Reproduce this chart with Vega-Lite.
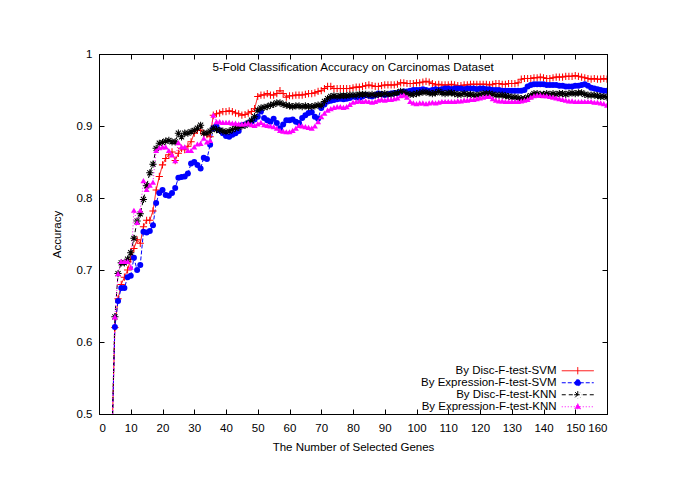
{
  "$schema": "https://vega.github.io/schema/vega-lite/v6.json",
  "autosize": {"type": "none"},
  "width": 508,
  "height": 360,
  "padding": {"left": 99, "top": 54, "right": 78, "bottom": 69},
  "background": "white",
  "title": {"text": "5-Fold Classification Accuracy on Carcinomas Dataset", "font": "Liberation Sans", "fontSize": 11.7, "fontWeight": "normal", "color": "black", "anchor": "middle", "baseline": "middle", "offset": -31},
  "data": {"values": [
    {"g":4,"r":0.45,"b":0.45,"k":0.45,"m":0.45},
    {"g":5,"r":0.62,"b":0.621,"k":0.635,"m":0.635},
    {"g":6,"r":0.66,"b":0.657,"k":0.695,"m":0.695},
    {"g":7,"r":0.68,"b":0.675,"k":0.71,"m":0.712},
    {"g":8,"r":0.69,"b":0.675,"k":0.71,"m":0.712},
    {"g":9,"r":0.70,"b":0.69,"k":0.715,"m":0.712},
    {"g":10,"r":0.715,"b":0.692,"k":0.724,"m":0.704},
    {"g":11,"r":0.73,"b":0.717,"k":0.744,"m":0.783},
    {"g":12,"r":0.742,"b":0.70,"k":0.768,"m":0.766},
    {"g":13,"r":0.737,"b":0.707,"k":0.778,"m":0.783},
    {"g":14,"r":0.76,"b":0.753,"k":0.798,"m":0.824},
    {"g":15,"r":0.769,"b":0.752,"k":0.817,"m":0.812},
    {"g":16,"r":0.769,"b":0.754,"k":0.835,"m":0.818},
    {"g":17,"r":0.782,"b":0.762,"k":0.847,"m":0.822},
    {"g":18,"r":0.811,"b":0.793,"k":0.869,"m":0.866},
    {"g":19,"r":0.83,"b":0.807,"k":0.876,"m":0.87},
    {"g":20,"r":0.846,"b":0.811,"k":0.877,"m":0.871},
    {"g":21,"r":0.855,"b":0.804,"k":0.879,"m":0.871},
    {"g":22,"r":0.86,"b":0.803,"k":0.88,"m":0.866},
    {"g":23,"r":0.864,"b":0.807,"k":0.878,"m":0.86},
    {"g":24,"r":0.852,"b":0.814,"k":0.878,"m":0.852},
    {"g":25,"r":0.862,"b":0.828,"k":0.89,"m":0.877},
    {"g":26,"r":0.869,"b":0.829,"k":0.885,"m":0.871},
    {"g":27,"r":0.867,"b":0.83,"k":0.89,"m":0.871},
    {"g":28,"r":0.872,"b":0.834,"k":0.89,"m":0.866},
    {"g":29,"r":0.878,"b":0.848,"k":0.892,"m":0.866},
    {"g":30,"r":0.89,"b":0.85,"k":0.894,"m":0.871},
    {"g":31,"r":0.894,"b":0.846,"k":0.897,"m":0.875},
    {"g":32,"r":0.894,"b":0.841,"k":0.901,"m":0.876},
    {"g":33,"r":0.889,"b":0.856,"k":0.89,"m":0.883},
    {"g":34,"r":0.888,"b":0.854,"k":0.89,"m":0.878},
    {"g":35,"r":0.885,"b":0.874,"k":0.893,"m":0.88},
    {"g":36,"r":0.915,"b":0.897,"k":0.897,"m":0.915},
    {"g":37,"r":0.917,"b":0.9,"k":0.895,"m":0.906},
    {"g":38,"r":0.918,"b":0.894,"k":0.894,"m":0.906},
    {"g":39,"r":0.92,"b":0.89,"k":0.893,"m":0.905},
    {"g":40,"r":0.92,"b":0.886,"k":0.892,"m":0.905},
    {"g":41,"r":0.921,"b":0.885,"k":0.893,"m":0.905},
    {"g":42,"r":0.92,"b":0.888,"k":0.895,"m":0.904},
    {"g":43,"r":0.918,"b":0.89,"k":0.897,"m":0.904},
    {"g":44,"r":0.917,"b":0.893,"k":0.898,"m":0.903},
    {"g":45,"r":0.915,"b":0.901,"k":0.9,"m":0.903},
    {"g":46,"r":0.916,"b":0.902,"k":0.901,"m":0.903},
    {"g":47,"r":0.918,"b":0.904,"k":0.904,"m":0.904},
    {"g":48,"r":0.92,"b":0.906,"k":0.908,"m":0.902},
    {"g":49,"r":0.924,"b":0.909,"k":0.913,"m":0.901},
    {"g":50,"r":0.941,"b":0.913,"k":0.922,"m":0.903},
    {"g":51,"r":0.943,"b":0.92,"k":0.925,"m":0.905},
    {"g":52,"r":0.943,"b":0.911,"k":0.926,"m":0.902},
    {"g":53,"r":0.945,"b":0.908,"k":0.927,"m":0.901},
    {"g":54,"r":0.943,"b":0.906,"k":0.929,"m":0.9},
    {"g":55,"r":0.943,"b":0.91,"k":0.93,"m":0.899},
    {"g":56,"r":0.945,"b":0.904,"k":0.932,"m":0.897},
    {"g":57,"r":0.949,"b":0.897,"k":0.932,"m":0.894},
    {"g":58,"r":0.945,"b":0.902,"k":0.93,"m":0.893},
    {"g":59,"r":0.94,"b":0.908,"k":0.929,"m":0.892},
    {"g":60,"r":0.942,"b":0.908,"k":0.928,"m":0.892},
    {"g":61,"r":0.942,"b":0.909,"k":0.927,"m":0.894},
    {"g":62,"r":0.943,"b":0.906,"k":0.928,"m":0.897},
    {"g":63,"r":0.943,"b":0.904,"k":0.928,"m":0.901},
    {"g":64,"r":0.943,"b":0.911,"k":0.927,"m":0.9},
    {"g":65,"r":0.944,"b":0.915,"k":0.928,"m":0.899},
    {"g":66,"r":0.945,"b":0.918,"k":0.927,"m":0.898},
    {"g":67,"r":0.945,"b":0.919,"k":0.927,"m":0.897},
    {"g":68,"r":0.946,"b":0.913,"k":0.928,"m":0.9},
    {"g":69,"r":0.948,"b":0.91,"k":0.929,"m":0.906},
    {"g":70,"r":0.949,"b":0.925,"k":0.929,"m":0.913},
    {"g":71,"r":0.952,"b":0.93,"k":0.934,"m":0.918},
    {"g":72,"r":0.955,"b":0.934,"k":0.938,"m":0.922},
    {"g":73,"r":0.955,"b":0.935,"k":0.941,"m":0.924},
    {"g":74,"r":0.952,"b":0.936,"k":0.942,"m":0.926},
    {"g":75,"r":0.952,"b":0.937,"k":0.941,"m":0.927},
    {"g":76,"r":0.952,"b":0.938,"k":0.942,"m":0.927},
    {"g":77,"r":0.952,"b":0.937,"k":0.942,"m":0.926},
    {"g":78,"r":0.952,"b":0.938,"k":0.942,"m":0.927},
    {"g":79,"r":0.952,"b":0.939,"k":0.943,"m":0.93},
    {"g":80,"r":0.953,"b":0.941,"k":0.943,"m":0.933},
    {"g":81,"r":0.954,"b":0.94,"k":0.943,"m":0.934},
    {"g":82,"r":0.954,"b":0.939,"k":0.944,"m":0.935},
    {"g":83,"r":0.955,"b":0.941,"k":0.944,"m":0.934},
    {"g":84,"r":0.956,"b":0.943,"k":0.944,"m":0.935},
    {"g":85,"r":0.957,"b":0.942,"k":0.943,"m":0.934},
    {"g":86,"r":0.956,"b":0.941,"k":0.944,"m":0.933},
    {"g":87,"r":0.955,"b":0.943,"k":0.943,"m":0.934},
    {"g":88,"r":0.955,"b":0.945,"k":0.944,"m":0.936},
    {"g":89,"r":0.956,"b":0.944,"k":0.944,"m":0.937},
    {"g":90,"r":0.957,"b":0.943,"k":0.945,"m":0.936},
    {"g":91,"r":0.957,"b":0.944,"k":0.944,"m":0.937},
    {"g":92,"r":0.957,"b":0.945,"k":0.944,"m":0.937},
    {"g":93,"r":0.957,"b":0.946,"k":0.945,"m":0.938},
    {"g":94,"r":0.958,"b":0.946,"k":0.946,"m":0.939},
    {"g":95,"r":0.96,"b":0.947,"k":0.948,"m":0.942},
    {"g":96,"r":0.96,"b":0.948,"k":0.947,"m":0.943},
    {"g":97,"r":0.959,"b":0.948,"k":0.945,"m":0.94},
    {"g":98,"r":0.959,"b":0.949,"k":0.944,"m":0.934},
    {"g":99,"r":0.959,"b":0.95,"k":0.944,"m":0.932},
    {"g":100,"r":0.96,"b":0.95,"k":0.945,"m":0.931},
    {"g":101,"r":0.96,"b":0.95,"k":0.946,"m":0.932},
    {"g":102,"r":0.961,"b":0.951,"k":0.947,"m":0.932},
    {"g":103,"r":0.962,"b":0.95,"k":0.947,"m":0.931},
    {"g":104,"r":0.961,"b":0.949,"k":0.946,"m":0.932},
    {"g":105,"r":0.959,"b":0.95,"k":0.945,"m":0.933},
    {"g":106,"r":0.957,"b":0.951,"k":0.946,"m":0.932},
    {"g":107,"r":0.958,"b":0.95,"k":0.948,"m":0.933},
    {"g":108,"r":0.957,"b":0.951,"k":0.946,"m":0.934},
    {"g":109,"r":0.957,"b":0.952,"k":0.945,"m":0.934},
    {"g":110,"r":0.957,"b":0.952,"k":0.946,"m":0.934},
    {"g":111,"r":0.958,"b":0.951,"k":0.946,"m":0.934},
    {"g":112,"r":0.957,"b":0.952,"k":0.945,"m":0.934},
    {"g":113,"r":0.956,"b":0.952,"k":0.944,"m":0.935},
    {"g":114,"r":0.956,"b":0.952,"k":0.944,"m":0.935},
    {"g":115,"r":0.957,"b":0.951,"k":0.945,"m":0.936},
    {"g":116,"r":0.957,"b":0.952,"k":0.944,"m":0.936},
    {"g":117,"r":0.958,"b":0.952,"k":0.944,"m":0.937},
    {"g":118,"r":0.958,"b":0.952,"k":0.943,"m":0.937},
    {"g":119,"r":0.958,"b":0.951,"k":0.943,"m":0.938},
    {"g":120,"r":0.958,"b":0.952,"k":0.944,"m":0.939},
    {"g":121,"r":0.958,"b":0.952,"k":0.945,"m":0.94},
    {"g":122,"r":0.958,"b":0.951,"k":0.945,"m":0.941},
    {"g":123,"r":0.957,"b":0.951,"k":0.945,"m":0.941},
    {"g":124,"r":0.958,"b":0.95,"k":0.944,"m":0.938},
    {"g":125,"r":0.959,"b":0.95,"k":0.943,"m":0.936},
    {"g":126,"r":0.959,"b":0.95,"k":0.943,"m":0.935},
    {"g":127,"r":0.958,"b":0.949,"k":0.943,"m":0.935},
    {"g":128,"r":0.958,"b":0.949,"k":0.942,"m":0.934},
    {"g":129,"r":0.959,"b":0.949,"k":0.941,"m":0.934},
    {"g":130,"r":0.959,"b":0.949,"k":0.94,"m":0.934},
    {"g":131,"r":0.959,"b":0.949,"k":0.94,"m":0.934},
    {"g":132,"r":0.96,"b":0.949,"k":0.939,"m":0.934},
    {"g":133,"r":0.965,"b":0.949,"k":0.938,"m":0.935},
    {"g":134,"r":0.966,"b":0.95,"k":0.938,"m":0.936},
    {"g":135,"r":0.966,"b":0.955,"k":0.94,"m":0.937},
    {"g":136,"r":0.966,"b":0.957,"k":0.942,"m":0.94},
    {"g":137,"r":0.967,"b":0.958,"k":0.945,"m":0.942},
    {"g":138,"r":0.967,"b":0.958,"k":0.945,"m":0.943},
    {"g":139,"r":0.968,"b":0.958,"k":0.944,"m":0.943},
    {"g":140,"r":0.967,"b":0.958,"k":0.944,"m":0.942},
    {"g":141,"r":0.966,"b":0.957,"k":0.945,"m":0.942},
    {"g":142,"r":0.966,"b":0.957,"k":0.944,"m":0.941},
    {"g":143,"r":0.967,"b":0.957,"k":0.945,"m":0.94},
    {"g":144,"r":0.968,"b":0.957,"k":0.944,"m":0.939},
    {"g":145,"r":0.968,"b":0.956,"k":0.945,"m":0.938},
    {"g":146,"r":0.968,"b":0.956,"k":0.945,"m":0.937},
    {"g":147,"r":0.969,"b":0.955,"k":0.944,"m":0.936},
    {"g":148,"r":0.969,"b":0.955,"k":0.945,"m":0.935},
    {"g":149,"r":0.969,"b":0.955,"k":0.946,"m":0.935},
    {"g":150,"r":0.97,"b":0.956,"k":0.945,"m":0.934},
    {"g":151,"r":0.969,"b":0.956,"k":0.946,"m":0.934},
    {"g":152,"r":0.968,"b":0.957,"k":0.946,"m":0.934},
    {"g":153,"r":0.967,"b":0.958,"k":0.944,"m":0.934},
    {"g":154,"r":0.966,"b":0.956,"k":0.943,"m":0.934},
    {"g":155,"r":0.965,"b":0.953,"k":0.943,"m":0.934},
    {"g":156,"r":0.966,"b":0.952,"k":0.943,"m":0.933},
    {"g":157,"r":0.965,"b":0.951,"k":0.942,"m":0.933},
    {"g":158,"r":0.965,"b":0.95,"k":0.941,"m":0.932},
    {"g":159,"r":0.966,"b":0.949,"k":0.941,"m":0.931},
    {"g":160,"r":0.965,"b":0.949,"k":0.94,"m":0.929}
  ]},
  "transform": [{"fold": ["r", "b", "k", "m"], "as": ["s", "acc"]}],
  "layer": [
    {
      "mark": {"type": "line", "clip": true, "strokeWidth": 1},
      "encoding": {
        "x": {"field": "g", "type": "quantitative", "scale": {"domain": [0, 160], "nice": false, "zero": false},
              "axis": {"orient": "bottom", "values": [0,10,20,30,40,50,60,70,80,90,100,110,120,130,140,150,160], "title": "The Number of Selected Genes", "titlePadding": 8, "labelPadding": 13}},
        "y": {"field": "acc", "type": "quantitative", "scale": {"domain": [0.5, 1], "nice": false, "zero": false},
              "axis": {"orient": "left", "values": [0.5,0.6,0.7,0.8,0.9,1.0], "format": ".1~f", "title": "Accuracy", "titlePadding": 14, "labelPadding": 12}},
        "stroke": {"field": "s", "type": "nominal",
                   "scale": {"domain": ["r", "b", "k", "m"], "range": ["#ff0000", "#0000ff", "#000000", "#ff00ff"]},
                   "legend": {"title": null, "orient": "none", "legendX": 473, "legendY": 311, "padding": 0, "rowPadding": -3,
                              "labelFont": "Liberation Sans", "labelFontSize": 11.5, "labelColor": "black", "labelAlign": "right", "labelOffset": -27, "labelLimit": 400,
                              "symbolSize": 64, "symbolStrokeWidth": 1,
                              "labelExpr": "datum.label == 'r' ? 'By Disc-F-test-SVM' : datum.label == 'b' ? 'By Expression-F-test-SVM' : datum.label == 'k' ? 'By Disc-F-test-KNN' : 'By Expression-F-test-KNN'",
                              "encode": {"symbols": {"update": {
                                "shape": {"signal": "datum.value == 'r' ? 'M-4,0L4,0M0,-0.9L0,0.9' : datum.value == 'b' ? 'M-4,0L4,0M0.75,0A0.75,0.75 0 1,1 -0.75,0A0.75,0.75 0 1,1 0.75,0Z' : datum.value == 'k' ? 'M-4,0L4,0M-0.9,0L0.9,0M0,-0.9L0,0.9M-0.65,-0.65L0.65,0.65M-0.65,0.65L0.65,-0.65' : 'M-4,0L4,0M0,-0.8L0.75,0.5L-0.75,0.5Z'"},
                                "fill": {"signal": "datum.value == 'b' ? '#0000ff' : datum.value == 'm' ? '#ff00ff' : 'transparent'"}
                              }}}}},
        "strokeDash": {"field": "s", "type": "nominal",
                       "scale": {"domain": ["r", "b", "k", "m"], "range": [[1, 0], [4, 2], [4, 3], [1, 2]]},
                       "legend": {"title": null, "orient": "none", "legendX": 473, "legendY": 311, "padding": 0, "rowPadding": -3,
                              "labelFont": "Liberation Sans", "labelFontSize": 11.5, "labelColor": "black", "labelAlign": "right", "labelOffset": -27, "labelLimit": 400,
                              "symbolSize": 64, "symbolStrokeWidth": 1,
                              "labelExpr": "datum.label == 'r' ? 'By Disc-F-test-SVM' : datum.label == 'b' ? 'By Expression-F-test-SVM' : datum.label == 'k' ? 'By Disc-F-test-KNN' : 'By Expression-F-test-KNN'",
                              "encode": {"symbols": {"update": {
                                "shape": {"signal": "datum.value == 'r' ? 'M-4,0L4,0M0,-0.9L0,0.9' : datum.value == 'b' ? 'M-4,0L4,0M0.75,0A0.75,0.75 0 1,1 -0.75,0A0.75,0.75 0 1,1 0.75,0Z' : datum.value == 'k' ? 'M-4,0L4,0M-0.9,0L0.9,0M0,-0.9L0,0.9M-0.65,-0.65L0.65,0.65M-0.65,0.65L0.65,-0.65' : 'M-4,0L4,0M0,-0.8L0.75,0.5L-0.75,0.5Z'"},
                                "fill": {"signal": "datum.value == 'b' ? '#0000ff' : datum.value == 'm' ? '#ff00ff' : 'transparent'"}
                              }}}}}
      }
    },
    {
      "transform": [{"filter": "datum.s == 'r'"}],
      "mark": {"type": "point", "clip": true, "filled": true, "opacity": 1, "size": 36, "strokeWidth": 0, "color": "#ff0000",
               "shape": "M-1.2,-0.17L-0.17,-0.17L-0.17,-1.2L0.17,-1.2L0.17,-0.17L1.2,-0.17L1.2,0.17L0.17,0.17L0.17,1.2L-0.17,1.2L-0.17,0.17L-1.2,0.17Z"},
      "encoding": {
        "x": {"field": "g", "type": "quantitative", "axis": {"orient": "top", "values": [0,10,20,30,40,50,60,70,80,90,100,110,120,130,140,150,160], "labels": false, "title": null}},
        "y": {"field": "acc", "type": "quantitative", "axis": {"orient": "right", "values": [0.5,0.6,0.7,0.8,0.9,1.0], "labels": false, "title": null}}
      }
    },
    {
      "transform": [{"filter": "datum.s == 'b'"}],
      "mark": {"type": "point", "clip": true, "filled": true, "opacity": 1, "size": 36, "strokeWidth": 0, "color": "#0000ff", "shape": "circle"},
      "encoding": {
        "x": {"field": "g", "type": "quantitative", "axis": null},
        "y": {"field": "acc", "type": "quantitative", "axis": null}
      }
    },
    {
      "transform": [{"filter": "datum.s == 'k'"}],
      "mark": {"type": "point", "clip": true, "filled": true, "opacity": 1, "size": 36, "strokeWidth": 0, "color": "#000000",
               "shape": "M-1.2,-0.17L-0.17,-0.17L-0.17,-1.2L0.17,-1.2L0.17,-0.17L1.2,-0.17L1.2,0.17L0.17,0.17L0.17,1.2L-0.17,1.2L-0.17,0.17L-1.2,0.17Z M-0.73,-0.97L0.97,0.73L0.73,0.97L-0.97,-0.73Z M-0.73,0.97L-0.97,0.73L0.73,-0.97L0.97,-0.73Z"},
      "encoding": {
        "x": {"field": "g", "type": "quantitative", "axis": null},
        "y": {"field": "acc", "type": "quantitative", "axis": null}
      }
    },
    {
      "transform": [{"filter": "datum.s == 'm'"}],
      "mark": {"type": "point", "clip": true, "filled": true, "opacity": 1, "size": 36, "strokeWidth": 0, "color": "#ff00ff", "shape": "triangle-up"},
      "encoding": {
        "x": {"field": "g", "type": "quantitative", "axis": null},
        "y": {"field": "acc", "type": "quantitative", "axis": null}
      }
    }
  ],
  "resolve": {"axis": {"x": "independent", "y": "independent"}},
  "config": {
    "view": {"stroke": "black", "strokeWidth": 1},
    "axis": {"grid": false, "domainColor": "black", "domainWidth": 1, "tickColor": "black", "tickWidth": 1, "tickSize": -5,
             "labelFont": "Liberation Sans", "labelFontSize": 11.5, "labelColor": "black",
             "titleFont": "Liberation Sans", "titleFontSize": 11.5, "titleFontWeight": "normal", "titleColor": "black"}
  }
}
